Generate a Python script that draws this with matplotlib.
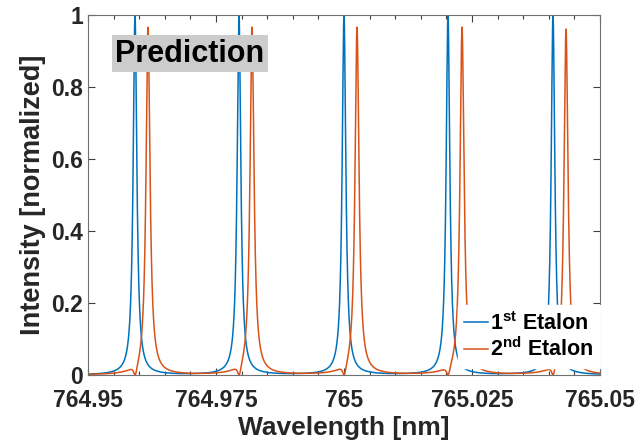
import numpy as np
import matplotlib
matplotlib.use("Agg")
import matplotlib.pyplot as plt
import matplotlib.ticker as mticker

plt.rcParams["font.family"] = ["Liberation Sans", "DejaVu Sans"]
plt.rcParams["font.weight"] = "bold"
plt.rcParams["mathtext.fontset"] = "custom"
plt.rcParams["mathtext.rm"] = "Liberation Sans:bold"
plt.rcParams["mathtext.bf"] = "Liberation Sans:bold"

# Resonance peaks (wavelength in nm)
etalon1_centers = [764.95918, 764.97949, 765.00000, 765.02031, 765.04082]
etalon1_heights = [1.0, 1.0, 1.0, 1.0, 1.0]
etalon1_fwhm = 0.00086

etalon2_centers = [764.96172, 764.98203, 765.00254, 765.02305, 765.04336]
etalon2_heights = [0.965, 0.965, 0.965, 0.965, 0.960]
etalon2_fwhm = 0.00094

x_ticks = [764.95, 764.975, 765.0, 765.025, 765.05]
y_ticks = [0, 0.2, 0.4, 0.6, 0.8, 1.0]

BLUE = "#0072BD"
ORANGE = "#D95319"


def lorentz(wl, center, fwhm):
    return 1.0 / (1.0 + (2.0 * (wl - center) / fwhm) ** 2)


wl = np.linspace(x_ticks[0], x_ticks[-1], 20001)

# first etalon: plain sum of resonances
t1 = np.zeros_like(wl)
for c, h in zip(etalon1_centers, etalon1_heights):
    t1 += h * lorentz(wl, c, etalon1_fwhm)

# second etalon sees what the first one lets through (notch at each etalon-1 peak)
notch = np.clip(1.0 - t1, 0.0, None)
t2 = np.zeros_like(wl)
for c, h in zip(etalon2_centers, etalon2_heights):
    at_peak = np.interp(c, wl, notch)
    t2 += h / at_peak * lorentz(wl, c, etalon2_fwhm)
t2 *= notch

fig = plt.figure(figsize=(6.4, 4.44), dpi=100)
ax = fig.add_axes([0.1375, 0.1554, 0.8, 0.8108])

ax.plot(wl, t1, color=BLUE, lw=1.1, label=r"1$^{\mathbf{st}}$ Etalon")
ax.plot(wl, t2, color=ORANGE, lw=1.1, label=r"2$^{\mathbf{nd}}$ Etalon")

ax.set_xlim(x_ticks[0], x_ticks[-1])
ax.set_ylim(0, 1)
ax.set_xticks(x_ticks)
ax.set_yticks(y_ticks)
ax.xaxis.set_minor_locator(mticker.MultipleLocator(0.005))


def trim(v, _):
    return f"{v:.3f}".rstrip("0").rstrip(".")


ax.xaxis.set_major_formatter(mticker.FuncFormatter(trim))
ax.yaxis.set_major_formatter(mticker.FuncFormatter(trim))

ax.tick_params(which="both", direction="in", top=True, right=True,
               color="#404040", labelsize=16.5, labelcolor="#262626")
ax.tick_params(which="major", length=5, width=0.8)
ax.tick_params(which="minor", length=3, width=0.8)
ax.tick_params(axis="x", pad=10)
for sp in ax.spines.values():
    sp.set_color("#707070")
    sp.set_linewidth(0.8)

ax.set_xlabel("Wavelength [nm]", fontsize=19, fontweight="bold",
              color="#262626", labelpad=3)
ax.set_ylabel("Intensity [normalized]", fontsize=19.5, fontweight="bold",
              color="#262626", labelpad=4)

ax.text(0.199, 0.893, "Prediction", transform=ax.transAxes,
        ha="center", va="center", fontsize=22, fontweight="bold",
        color="black",
        bbox=dict(boxstyle="square,pad=0.12", facecolor="#cccccc",
                  edgecolor="none"))

leg = ax.legend(loc="lower right", bbox_to_anchor=(1.0, 0.02),
                borderaxespad=0, fontsize=15.5, handlelength=1.1,
                handletextpad=0.1, labelspacing=0.15, borderpad=0.3,
                fancybox=False, framealpha=1.0)
leg.get_frame().set_edgecolor("white")
leg.get_frame().set_facecolor("white")

fig.savefig("out.png", dpi=100)
